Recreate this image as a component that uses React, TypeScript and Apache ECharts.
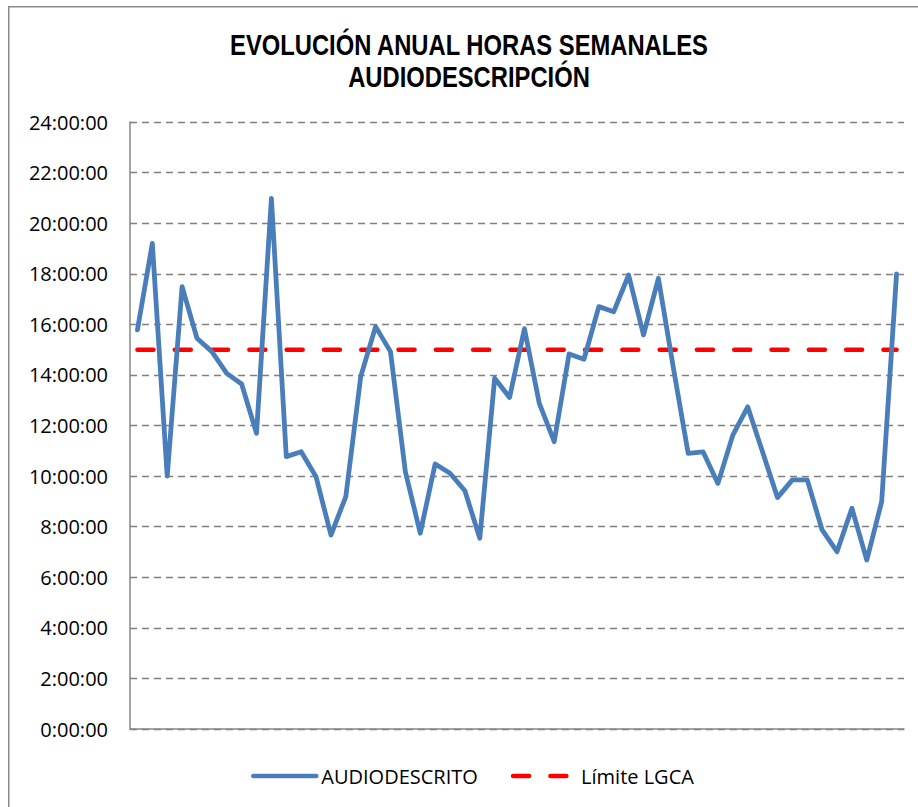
import React, { useEffect, useRef } from "react";
import * as echarts from "echarts";

// Weeks of the year (category axis, labels hidden in the reference)
const weeks: string[] = [
  "1", "2", "3", "4", "5", "6", "7", "8", "9", "10",
  "11", "12", "13", "14", "15", "16", "17", "18", "19", "20",
  "21", "22", "23", "24", "25", "26", "27", "28", "29", "30",
  "31", "32", "33", "34", "35", "36", "37", "38", "39", "40",
  "41", "42", "43", "44", "45", "46", "47", "48", "49", "50",
  "51", "52",
];

// Weekly audio-described hours (decimal hours)
const audiodescrito: number[] = [
  15.78, 19.2, 10.0, 17.49, 15.45, 14.92, 14.06, 13.64, 11.69, 20.98,
  10.77, 10.96, 9.97, 7.67, 9.19, 13.93, 15.91, 14.92, 10.17, 7.74,
  10.48, 10.11, 9.42, 7.54, 13.87, 13.11, 15.83, 12.87, 11.36, 14.83,
  14.62, 16.7, 16.5, 17.95, 15.58, 17.82, 14.3, 10.9, 10.96, 9.71,
  11.62, 12.74, 10.95, 9.15, 9.85, 9.85, 7.87, 7.01, 8.73, 6.68,
  8.99, 17.99,
];

// Legal limit (LGCA) in hours
const limiteLGCA = 15;
const limiteSeries: number[] = weeks.map(() => limiteLGCA);

// Y axis: 0..24 hours every 2 hours
const yMin = 0;
const yMax = 24;
const yStep = 2;

const titleLines: string[] = ["EVOLUCIÓN ANUAL HORAS SEMANALES", "AUDIODESCRIPCIÓN"];
const seriesNames: string[] = ["AUDIODESCRITO", "Límite LGCA"];

export default function App() {
  const ref = useRef<HTMLDivElement>(null);

  useEffect(() => {
    if (!ref.current) return;
    const chart = echarts.init(ref.current, undefined, { renderer: "svg" });
    const labelFont = "'Open Sans', 'Noto Sans', sans-serif";
    const titleFont = "bold 29px 'Liberation Sans', Arial, sans-serif";
    chart.setOption({
      animation: false,
      backgroundColor: "#ffffff",
      graphic: [
        {
          type: "polyline",
          silent: true,
          shape: { points: [[8.75, 807], [8.75, 6.75], [918, 6.75]] },
          style: { stroke: "#8c8c8c", lineWidth: 1.5, fill: "none" },
        },
        {
          type: "text",
          silent: true,
          x: 469,
          y: 45,
          scaleX: 0.82,
          style: {
            text: titleLines[0],
            font: titleFont,
            fill: "#000000",
            textAlign: "center",
            textVerticalAlign: "middle",
          },
        },
        {
          type: "text",
          silent: true,
          x: 469,
          y: 77,
          scaleX: 0.82,
          style: {
            text: titleLines[1],
            font: titleFont,
            fill: "#000000",
            textAlign: "center",
            textVerticalAlign: "middle",
          },
        },
      ],
      legend: {
        left: 246,
        top: 761,
        itemWidth: 63,
        itemHeight: 20,
        itemGap: 33,
        itemStyle: { opacity: 0 },
        lineStyle: { width: 4.5 },
        textStyle: {
          fontFamily: labelFont,
          fontSize: 20,
          color: "#000000",
        },
        data: seriesNames,
      },
      grid: {
        left: 130,
        top: 122,
        width: 774,
        height: 607,
        containLabel: false,
      },
      xAxis: {
        type: "category",
        data: weeks,
        boundaryGap: true,
        axisLine: { show: true, lineStyle: { color: "#868686", width: 1.5 } },
        axisTick: { show: false },
        axisLabel: { show: false },
        splitLine: { show: false },
      },
      yAxis: {
        type: "value",
        min: yMin,
        max: yMax,
        interval: yStep,
        axisLine: { show: true, lineStyle: { color: "#868686", width: 1.5 } },
        axisTick: { show: false },
        axisLabel: {
          margin: 22,
          fontFamily: labelFont,
          fontSize: 20,
          color: "#000000",
          formatter: (v: number) => `${v}:00:00`,
        },
        splitLine: {
          show: true,
          lineStyle: { color: "#7f7f7f", width: 1.4, type: [7, 5] },
        },
      },
      series: [
        {
          name: seriesNames[0],
          type: "line",
          data: audiodescrito,
          symbol: "none",
          showSymbol: false,
          lineStyle: { color: "#4a7ebb", width: 4.8, join: "round", cap: "round" },
          itemStyle: { color: "#4a7ebb" },
          z: 3,
        },
        {
          name: seriesNames[1],
          type: "line",
          data: limiteSeries,
          symbol: "none",
          showSymbol: false,
          lineStyle: { color: "#ff0000", width: 4.5, type: [16, 21.3], cap: "round" },
          itemStyle: { color: "#ff0000" },
          z: 2,
        },
      ],
    });
    return () => chart.dispose();
  }, []);

  return (
    <div
      ref={ref}
      style={{ position: "fixed", left: 0, top: 0, width: 918, height: 807 }}
    />
  );
}
